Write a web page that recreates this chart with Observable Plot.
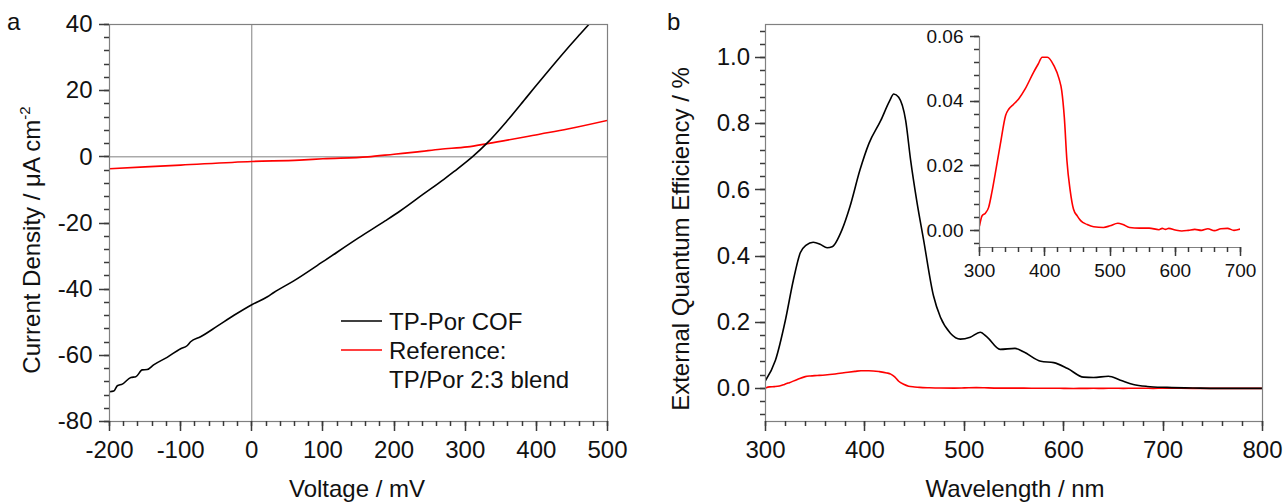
<!DOCTYPE html>
<html><head><meta charset="utf-8">
<script src="https://cdn.jsdelivr.net/npm/d3@7"></script>
<script src="https://cdn.jsdelivr.net/npm/@observablehq/plot@0.6"></script>
<style>
html,body{margin:0;padding:0;background:#fff;}
#wrap{position:relative;display:flex;flex-direction:row;width:1284px;height:504px;font-family:"Liberation Sans",Arial,sans-serif;}
</style></head><body><div id="wrap"></div>
<script>
// ---------- Panel a: J–V ----------
const cofV = [-200,-194,-189,-182,-170,-163,-154,-147,-138,-119,-100,-91,-86,-72,-48,-25,0,22,31,59,100,150,188,209,241,270,284,298,310,331,359,387,415,443,462,477];
const cofJ = [-71.0,-70.8,-69.2,-68.7,-66.7,-66.5,-64.4,-64.3,-62.9,-60.6,-58.0,-57.1,-55.9,-54.4,-51.1,-47.9,-44.7,-42.3,-41.0,-37.5,-31.7,-24.5,-19.3,-16.3,-11.3,-6.8,-4.5,-2.1,0,4.2,10.9,18.2,25.5,32.6,37.2,40.8];
const refV = [-200,-100,0,67,100,163,200,233,265,303,331,406,444,500];
const refJ = [-3.6,-2.5,-1.4,-1.0,-0.6,0.0,0.8,1.5,2.3,3.0,4.0,6.9,8.4,11.0];
const aXDomain = [-200, 500];
const aYDomain = [-80, 40];
const aXTicks = [-200,-100,0,100,200,300,400,500];
const aYTicks = [-80,-60,-40,-20,0,20,40];
const aLegend = ["TP-Por COF", "Reference:", "TP/Por 2:3 blend"];

// ---------- Panel b: EQE ----------
const cofWl  = [300,310,320,328,335,341,348,355,362,367,377,385,395,404,416,425,429,434,441,446,452,459,469,476,486,496,506,516,523,536,551,560,577,590,604,620,630,645,657,670,684,704,737,770,800];
const cofEqe = [0.024,0.085,0.206,0.327,0.41,0.433,0.442,0.436,0.425,0.428,0.48,0.55,0.66,0.74,0.81,0.87,0.89,0.88,0.81,0.69,0.57,0.45,0.28,0.215,0.167,0.149,0.155,0.17,0.155,0.118,0.121,0.11,0.082,0.078,0.06,0.034,0.033,0.037,0.025,0.012,0.006,0.003,0.001,0.0,0.0];
const refWl  = [300,304,309,314,319,324,332,340,345,352,360,370,383,390,396,404,414,422,426,430,434,439,444,450,455,465,475,490,500,512,520,530,545,560,575,580,585,590,600,610,620,630,640,650,660,670,680,690,700];
const refEqe = [0.0015,0.0046,0.0054,0.0072,0.0119,0.0175,0.0268,0.0356,0.0376,0.039,0.0407,0.0438,0.049,0.0515,0.0536,0.0536,0.051,0.0469,0.0433,0.035,0.0216,0.0124,0.0067,0.0045,0.0031,0.0019,0.0012,0.001,0.0015,0.0023,0.0019,0.001,0.0008,0.0008,0.0003,0.0007,0.0004,0.0007,0.0002,-0.0001,0.0001,0.0004,0.0001,0.0006,0.0,0.0006,0.0007,0.0001,0.0005];
const refTailWl  = [730,760,800];
const refTailEqe = [0.0002,0.0001,0.0001];
const bXDomain = [300, 800];
const bYDomain = [-0.1, 1.1];
const bXTicks = [300,400,500,600,700,800];
const bYTicks = [0.0,0.2,0.4,0.6,0.8,1.0];
const iXDomain = [300, 700];
const iYDomain = [-0.0052, 0.06];
const iXTicks = [300,400,500,600,700];
const iYTicks = [0.00,0.02,0.04,0.06];

// ---------- styling ----------
const FF = '"Liberation Sans", Arial, sans-serif';
const TXT = "#111";
const FRAME = "#808080";
const TICK = "#3a3a3a";
const RED = "#ff0000";
const BLK = "#000";
const LW = 1.6;

const tbl = (xs, ys) => xs.map((x, i) => ({x, y: ys[i]}));
const minor = (dom, step) => d3.range(Math.ceil(dom[0]/step - 1e-9)*step, dom[1] + step*1e-6, step).map(v => +v.toFixed(6));

function labels(o) {
  return [
    Plot.axisY(o.yT, {tickSize: 0, tickPadding: o.big + o.padY, tickFormat: o.fmtY, fill: TXT, fontSize: o.fs, label: null}),
    Plot.axisX(o.xT, {tickSize: 0, tickPadding: o.big + o.padX, tickFormat: o.fmtX, fill: TXT, fontSize: o.fs, label: null})
  ];
}
// outward ticks drawn through the plot's own scales
function drawTicks(svg, o) {
  const sx = svg.scale("x"), sy = svg.scale("y");
  const left = o.ml, bottom = o.h - o.mb;
  const g = d3.select(svg).append("g").attr("stroke", TICK).attr("stroke-width", 1.5);
  const addY = (vals, size) => vals.forEach(v => { const y = Math.round(sy.apply(v)) + 0.5;
    g.append("line").attr("x1", left - size).attr("x2", left).attr("y1", y).attr("y2", y); });
  const addX = (vals, size) => vals.forEach(v => { const x = Math.round(sx.apply(v)) + 0.5;
    g.append("line").attr("x1", x).attr("x2", x).attr("y1", bottom).attr("y2", bottom + size); });
  addY(minor(o.yDom, o.yStep), o.small);
  addX(minor(o.xDom, o.xStep), o.small);
  addY(o.yT, o.big);
  addX(o.xT, o.big);
}
const wrap = document.getElementById("wrap");

// Panel a
const oa = {xT: aXTicks, yT: aYTicks, xStep: 20, yStep: 4, xDom: aXDomain, yDom: aYDomain,
  fmtX: d => String(d), fmtY: d => String(d), fs: 24, big: 10, small: 5, padX: 9, padY: 7, ml: 109, mb: 83, h: 504};
const pa = Plot.plot({
  width: 640, height: 504, marginLeft: 109, marginRight: 33, marginTop: 24, marginBottom: 83,
  x: {domain: aXDomain, label: null}, y: {domain: aYDomain, label: null},
  style: {fontFamily: FF, color: TXT},
  marks: [
    Plot.ruleX([0], {stroke: FRAME, strokeWidth: 1}),
    Plot.ruleY([0], {stroke: FRAME, strokeWidth: 1}),
    Plot.line(tbl(refV, refJ), {x: "x", y: "y", stroke: RED, strokeWidth: LW, curve: "monotone-x", clip: true}),
    Plot.line(tbl(cofV, cofJ), {x: "x", y: "y", stroke: BLK, strokeWidth: LW, curve: "monotone-x", clip: true}),
    Plot.frame({stroke: FRAME, strokeWidth: 1.2}),
    ...labels(oa)
  ]
});
wrap.appendChild(pa);
drawTicks(pa, oa);

// Panel b
const ob = {xT: bXTicks, yT: bYTicks, xStep: 20, yStep: 0.04, xDom: bXDomain, yDom: bYDomain,
  fmtX: d => String(d), fmtY: d3.format(".1f"), fs: 24, big: 10, small: 5, padX: 9, padY: 5.5, ml: 125, mb: 83, h: 504};
const pb = Plot.plot({
  width: 644, height: 504, marginLeft: 125, marginRight: 22, marginTop: 24, marginBottom: 83,
  x: {domain: bXDomain, label: null}, y: {domain: bYDomain, label: null},
  style: {fontFamily: FF, color: TXT},
  marks: [
    Plot.line(tbl(refWl.concat(refTailWl), refEqe.concat(refTailEqe)), {x: "x", y: "y", stroke: RED, strokeWidth: LW, curve: "monotone-x", clip: true}),
    Plot.line(tbl(cofWl, cofEqe), {x: "x", y: "y", stroke: BLK, strokeWidth: LW, curve: "monotone-x", clip: true}),
    Plot.frame({stroke: FRAME, strokeWidth: 1.2}),
    ...labels(ob)
  ]
});
wrap.appendChild(pb);
drawTicks(pb, ob);

// Inset (absolutely placed over panel b)
const oi = {xT: iXTicks, yT: iYTicks, xStep: 20, yStep: 0.004, xDom: iXDomain, yDom: iYDomain,
  fmtX: d => String(d), fmtY: d3.format(".2f"), fs: 19, big: 9, small: 5, padX: 7, padY: 7, ml: 79, mb: 43, h: 280};
const pi = Plot.plot({
  width: 360, height: 280, marginLeft: 79, marginRight: 20, marginTop: 26, marginBottom: 43,
  x: {domain: iXDomain, label: null}, y: {domain: iYDomain, label: null},
  style: {fontFamily: FF, color: TXT, background: "transparent", position: "absolute", left: "900px", top: "10px"},
  marks: [
    Plot.line(tbl(refWl, refEqe), {x: "x", y: "y", stroke: RED, strokeWidth: LW, curve: "monotone-x", clip: true}),
    Plot.ruleX([iXDomain[0]], {stroke: FRAME, strokeWidth: 1.2}),
    Plot.ruleY([iYDomain[0]], {stroke: FRAME, strokeWidth: 1.2}),
    ...labels(oi)
  ]
});
wrap.appendChild(pi);
drawTicks(pi, oi);

// ---------- titles, panel letters, legend ----------
function addText(svg, x, y, str, opts = {}) {
  const t = d3.select(svg).append("text")
    .attr("x", x).attr("y", y)
    .attr("font-family", FF).attr("font-size", opts.size || 24)
    .attr("fill", TXT).attr("text-anchor", opts.anchor || "start")
    .text(str);
  if (opts.rotate) t.attr("transform", `rotate(-90 ${x} ${y})`);
  return t;
}
addText(pa, 7, 30, "a");
addText(pb, 27, 30, "b");
addText(pa, 357, 497, "Voltage / mV", {anchor: "middle"});
addText(pb, 375, 497, "Wavelength / nm", {anchor: "middle"});
const ty = addText(pa, 40, 240, "Current Density / μA cm", {anchor: "middle", rotate: true});
ty.append("tspan").attr("font-size", 15).attr("dy", -10).text("-2");
addText(pb, 49, 239, "External Quantum Efficiency / %", {anchor: "middle", rotate: true});

const lg = d3.select(pa).append("g");
lg.append("line").attr("x1", 341).attr("x2", 382).attr("y1", 321).attr("y2", 321).attr("stroke", BLK).attr("stroke-width", LW);
lg.append("line").attr("x1", 341).attr("x2", 382).attr("y1", 350).attr("y2", 350).attr("stroke", RED).attr("stroke-width", LW);
addText(pa, 389, 330, aLegend[0]);
addText(pa, 389, 359, aLegend[1]);
addText(pa, 389, 388, aLegend[2]);
</script>
</body></html>
